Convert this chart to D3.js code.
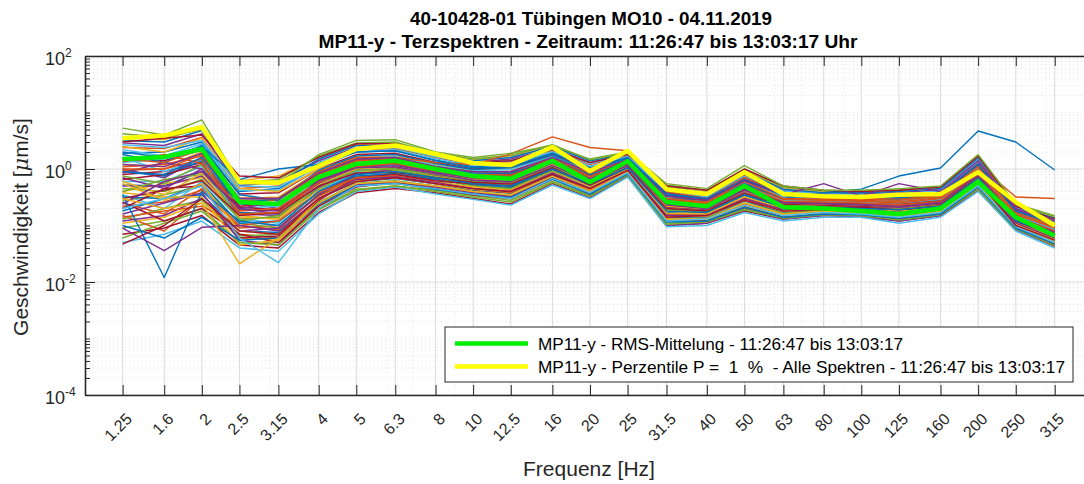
<!DOCTYPE html>
<html><head><meta charset="utf-8">
<script src="https://cdn.jsdelivr.net/npm/d3@7"></script>
<style>
body{margin:0;background:#fff}
svg{display:block;font-family:"Liberation Sans",Arial,Helvetica,sans-serif}
</style>
</head><body>
<svg id="chart" width="1084" height="484"></svg>
<script>
// ---------- data ----------
const freqs = [1.25,1.6,2,2.5,3.15,4,5,6.3,8,10,12.5,16,20,25,31.5,40,50,63,80,100,125,160,200,250,315];
const tickLabels = ["1.25","1.6","2","2.5","3.15","4","5","6.3","8","10","12.5","16","20","25","31.5","40","50","63","80","100","125","160","200","250","315"];
const yTickValues = [1e-4,1e-2,1e0,1e2];
const yTickExponents = ["-4","-2","0","2"];
const titleLine1 = "40-10428-01 Tübingen MO10 - 04.11.2019";
const titleLine2 = "MP11-y - Terzspektren - Zeitraum: 11:26:47 bis 13:03:17 Uhr";
const legendLabels = ["MP11-y - RMS-Mittelung - 11:26:47 bis 13:03:17",
                      "MP11-y - Perzentile P =  1  %  - Alle Spektren - 11:26:47 bis 13:03:17"];

// RMS average (green) and 1% percentile (yellow), µm/s
const rmsValues = [1.5,1.63,2.26,0.26,0.24,0.72,1.23,1.4,1.0,0.75,0.67,1.4,0.59,1.38,0.26,0.22,0.5,0.21,0.2,0.18,0.16,0.2,0.59,0.14,0.066];
const percentileValues = [3.5,3.9,5.5,0.59,0.57,1.13,2.26,2.6,1.84,1.28,1.18,2.45,0.92,2.1,0.44,0.36,0.88,0.36,0.33,0.32,0.35,0.36,0.88,0.26,0.1];

// individual third-octave spectra, µm/s
const spectra = [
 [0.52,0.5,0.9,0.17,0.16,0.5,1.0,1.1,0.8,0.65,0.62,1.2,0.62,1.2,0.22,0.2,0.4,0.24,0.24,0.23,0.21,0.25,0.8,0.13,0.075],
 [0.22,0.26,0.42,0.09,0.1,0.33,0.68,0.72,0.6,0.45,0.4,0.85,0.45,0.95,0.15,0.16,0.3,0.19,0.2,0.19,0.17,0.2,0.62,0.11,0.06],
 [1.2,1.1,2.0,0.3,0.32,0.9,1.6,1.7,1.2,0.95,1.0,1.7,0.9,1.5,0.32,0.27,0.6,0.33,0.3,0.3,0.28,0.33,1.1,0.17,0.1],
 [2.9,2.6,4.2,0.5,0.6,1.4,2.4,2.5,1.7,1.3,1.5,2.3,1.3,1.8,0.45,0.36,0.85,0.42,0.37,0.36,0.38,0.43,1.5,0.21,0.13],
 [0.09,0.12,0.2,0.05,0.05,0.2,0.44,0.5,0.42,0.34,0.28,0.6,0.34,0.8,0.11,0.12,0.2,0.14,0.16,0.16,0.13,0.16,0.46,0.09,0.047],
 [0.35,0.2,0.6,0.13,0.11,0.45,0.8,0.9,0.7,0.55,0.5,1.0,0.55,1.05,0.18,0.17,0.35,0.22,0.22,0.21,0.19,0.23,0.7,0.12,0.07],
 [0.8,0.9,1.3,0.22,0.25,0.65,1.3,1.4,1.0,0.8,0.8,1.45,0.75,1.35,0.27,0.23,0.5,0.28,0.27,0.26,0.25,0.29,0.95,0.15,0.088],
 [1.9,2.0,3.0,0.4,0.45,1.1,2.0,2.1,1.45,1.1,1.2,2.0,1.1,1.65,0.38,0.31,0.72,0.38,0.33,0.33,0.33,0.38,1.3,0.19,0.12],
 [0.15,0.08,0.3,0.07,0.06,0.25,0.55,0.6,0.5,0.4,0.33,0.7,0.4,0.88,0.13,0.13,0.24,0.16,0.18,0.17,0.15,0.18,0.55,0.1,0.052],
 [0.4,0.55,0.7,0.15,0.13,0.42,0.9,1.0,0.75,0.6,0.55,1.1,0.58,1.1,0.2,0.18,0.38,0.23,0.23,0.22,0.2,0.24,0.75,0.125,0.072],
 [1.0,0.7,1.6,0.26,0.2,0.75,1.45,1.5,1.1,0.88,0.9,1.6,0.85,1.4,0.3,0.25,0.55,0.3,0.28,0.28,0.26,0.31,1.0,0.16,0.095],
 [0.28,0.35,0.5,0.11,0.09,0.36,0.72,0.85,0.65,0.5,0.45,0.9,0.5,1.0,0.17,0.16,0.33,0.2,0.21,0.2,0.18,0.21,0.66,0.115,0.065],
 [0.6,0.6,1.1,0.2,0.22,0.58,1.15,1.2,0.9,0.72,0.7,1.3,0.7,1.25,0.24,0.21,0.45,0.26,0.25,0.25,0.23,0.27,0.9,0.14,0.08],
 [1.5,1.4,2.3,0.36,0.38,1.0,1.8,1.9,1.3,1.0,1.1,1.85,1.0,1.6,0.35,0.29,0.65,0.35,0.31,0.31,0.3,0.35,1.2,0.18,0.11],
 [0.18,0.3,0.35,0.08,0.075,0.3,0.6,0.68,0.55,0.42,0.37,0.78,0.42,0.92,0.14,0.14,0.27,0.17,0.19,0.18,0.16,0.19,0.58,0.105,0.055],
 [2.4,2.3,3.6,0.45,0.5,1.25,2.2,2.3,1.6,1.2,1.35,2.15,1.2,1.75,0.42,0.33,0.78,0.4,0.35,0.34,0.35,0.4,1.4,0.2,0.125],
 [0.11,0.14,0.25,0.06,0.055,0.22,0.5,0.55,0.46,0.37,0.3,0.65,0.37,0.84,0.12,0.125,0.22,0.15,0.17,0.165,0.14,0.17,0.5,0.095,0.05],
 [0.7,0.45,1.0,0.19,0.18,0.55,1.05,1.15,0.85,0.68,0.65,1.25,0.66,1.2,0.23,0.2,0.43,0.25,0.24,0.24,0.22,0.26,0.82,0.135,0.078],
 [0.45,0.4,0.65,0.13,0.14,0.45,0.85,0.95,0.72,0.57,0.52,1.05,0.56,1.08,0.19,0.175,0.37,0.22,0.22,0.22,0.2,0.23,0.72,0.12,0.07],
 [1.3,1.5,2.1,0.28,0.3,0.85,1.55,1.65,1.15,0.92,0.98,1.65,0.88,1.45,0.31,0.26,0.58,0.32,0.29,0.29,0.27,0.32,1.05,0.165,0.098],
 [0.07,0.09,0.15,0.045,0.04,0.17,0.38,0.45,0.38,0.3,0.24,0.55,0.31,0.75,0.1,0.11,0.18,0.13,0.15,0.15,0.12,0.15,0.42,0.085,0.043],
 [0.9,0.75,1.4,0.24,0.23,0.7,1.25,1.35,0.95,0.78,0.76,1.4,0.73,1.3,0.26,0.22,0.48,0.27,0.26,0.26,0.24,0.28,0.92,0.145,0.085],
 [0.25,0.16,0.45,0.1,0.085,0.34,0.65,0.75,0.6,0.46,0.43,0.85,0.47,0.97,0.155,0.155,0.31,0.195,0.205,0.2,0.175,0.205,0.64,0.11,0.062],
 [3.6,3.3,5.5,0.62,0.75,1.6,2.7,2.9,1.85,1.45,1.7,2.6,1.4,1.9,0.5,0.4,0.95,0.46,0.4,0.4,0.42,0.47,1.65,0.23,0.14],
 [0.5,0.5,0.75,0.16,0.15,0.48,0.95,1.05,0.78,0.62,0.58,1.15,0.6,1.12,0.21,0.19,0.4,0.24,0.235,0.23,0.21,0.25,0.78,0.13,0.074],
 [0.13,0.2,0.28,0.065,0.07,0.26,0.56,0.62,0.5,0.4,0.34,0.72,0.4,0.88,0.13,0.135,0.25,0.165,0.18,0.175,0.15,0.18,0.55,0.1,0.053],
 [2.2,1.7,2.8,0.42,0.42,1.15,2.0,2.2,1.5,1.15,1.25,2.0,1.1,1.65,0.4,0.32,0.74,0.38,0.34,0.33,0.33,0.38,1.3,0.19,0.115],
 [0.65,0.8,1.2,0.21,0.19,0.6,1.2,1.25,0.9,0.74,0.72,1.32,0.7,1.28,0.25,0.215,0.46,0.265,0.255,0.25,0.235,0.275,0.88,0.142,0.082],
 [0.32,0.3,0.55,0.11,0.12,0.38,0.75,0.82,0.66,0.52,0.47,0.95,0.5,1.02,0.17,0.165,0.34,0.21,0.21,0.205,0.185,0.215,0.68,0.115,0.066],
 [1.1,1.2,1.7,0.27,0.28,0.8,1.5,1.55,1.1,0.88,0.9,1.55,0.82,1.4,0.29,0.25,0.55,0.3,0.285,0.28,0.26,0.31,1.0,0.16,0.092],
 [2.5,2.0,3.5,0.45,0.4,1.0,1.6,1.5,1.0,0.7,0.6,1.1,0.55,1.1,0.18,0.16,0.32,0.18,0.19,0.19,0.16,0.19,0.6,0.1,0.055],
 [0.12,0.15,0.3,0.08,0.09,0.35,0.8,1.0,0.9,0.8,0.85,1.5,0.85,1.45,0.38,0.3,0.7,0.37,0.33,0.32,0.32,0.37,1.25,0.19,0.11],
 [0.4,0.65,0.8,0.25,0.3,0.7,1.1,1.0,0.7,0.5,0.45,0.95,0.48,1.0,0.2,0.18,0.36,0.22,0.22,0.21,0.19,0.22,0.7,0.12,0.065],
 [1.6,0.9,1.5,0.12,0.1,0.4,0.9,1.2,1.0,0.75,0.7,1.35,0.7,1.3,0.27,0.22,0.5,0.28,0.27,0.26,0.25,0.29,0.95,0.15,0.085],
 [0.2,0.45,0.5,0.06,0.065,0.28,0.7,0.8,0.62,0.55,0.5,1.0,0.55,1.1,0.22,0.2,0.42,0.24,0.23,0.22,0.21,0.24,0.76,0.125,0.07],
 [3.2,3.0,4.8,0.55,0.55,1.5,2.6,2.6,1.8,1.4,1.6,2.5,1.4,1.85,0.48,0.38,0.9,0.44,0.38,0.38,0.4,0.45,1.6,0.22,0.135],
 [0.95,1.0,1.5,0.18,0.2,0.6,1.2,1.3,0.95,0.8,0.78,1.4,0.78,1.35,0.28,0.24,0.52,0.29,0.28,0.27,0.25,0.3,0.98,0.155,0.09],
 [0.6,0.35,0.85,0.14,0.13,0.52,1.0,1.1,0.82,0.65,0.6,1.2,0.62,1.18,0.22,0.2,0.41,0.25,0.24,0.23,0.21,0.25,0.8,0.13,0.076],
 [0.16,0.25,0.38,0.055,0.045,0.24,0.52,0.6,0.48,0.38,0.32,0.7,0.38,0.86,0.1,0.11,0.19,0.13,0.15,0.14,0.12,0.15,0.48,0.085,0.045],
 [0.75,0.55,1.2,0.12,0.15,0.5,0.95,1.0,0.8,0.6,0.55,1.1,0.55,1.1,0.19,0.17,0.36,0.2,0.2,0.19,0.17,0.2,0.65,0.11,0.06],
 [0.05,0.07,0.12,0.04,0.035,0.16,0.4,0.48,0.36,0.29,0.23,0.52,0.3,0.72,0.095,0.1,0.17,0.12,0.14,0.14,0.11,0.14,0.4,0.08,0.04],
 [0.26,0.12,0.2,0.07,0.05,0.22,0.48,0.58,0.45,0.35,0.3,0.68,0.36,0.84,0.12,0.12,0.21,0.14,0.16,0.15,0.13,0.16,0.5,0.09,0.048],
 [1.8,1.3,2.6,0.35,0.28,0.95,1.7,1.8,1.25,0.98,1.05,1.75,0.95,1.55,0.34,0.28,0.62,0.34,0.3,0.3,0.29,0.34,1.15,0.175,0.105],
 [0.14,0.18,0.22,0.1,0.12,0.38,0.7,0.75,0.55,0.44,0.38,0.8,0.43,0.93,0.16,0.15,0.3,0.18,0.19,0.19,0.17,0.2,0.6,0.1,0.058],
 [0.38,0.32,0.32,0.045,0.055,0.3,0.62,0.7,0.58,0.48,0.42,0.88,0.48,0.98,0.165,0.16,0.32,0.2,0.2,0.2,0.18,0.21,0.66,0.112,0.063],
 [0.85,1.3,1.0,0.2,0.16,0.62,1.1,1.2,0.88,0.7,0.68,1.28,0.68,1.22,0.24,0.21,0.44,0.26,0.25,0.24,0.22,0.26,0.85,0.138,0.079],
 [0.06,0.11,0.18,0.05,0.045,0.19,0.42,0.5,0.4,0.32,0.26,0.58,0.33,0.78,0.105,0.115,0.19,0.135,0.155,0.15,0.125,0.155,0.44,0.087,0.044],
 [2.7,2.4,3.2,0.5,0.48,1.3,2.3,2.4,1.65,1.25,1.4,2.2,1.25,1.78,0.44,0.35,0.82,0.41,0.36,0.35,0.36,0.41,1.45,0.205,0.128],
 [0.3,0.42,0.62,0.15,0.17,0.5,0.85,0.88,0.7,0.58,0.54,1.05,0.52,1.06,0.2,0.18,0.37,0.22,0.21,0.21,0.19,0.22,0.7,0.118,0.067],
 [0.1,0.06,0.14,0.055,0.06,0.24,0.5,0.56,0.44,0.36,0.31,0.66,0.36,0.82,0.115,0.12,0.21,0.14,0.16,0.155,0.135,0.16,0.48,0.09,0.048],
 [1.35,1.8,1.25,0.16,0.17,0.58,1.1,1.25,0.92,0.75,0.74,1.35,0.72,1.3,0.26,0.22,0.47,0.27,0.26,0.25,0.23,0.27,0.87,0.14,0.08],
 [0.55,0.28,0.55,0.08,0.07,0.3,0.64,0.7,0.56,0.44,0.4,0.82,0.44,0.94,0.145,0.145,0.28,0.18,0.19,0.18,0.16,0.19,0.58,0.105,0.057],
 [0.24,0.6,0.9,0.2,0.26,0.62,1.05,1.1,0.82,0.64,0.6,1.15,0.62,1.15,0.23,0.2,0.42,0.25,0.24,0.23,0.21,0.25,0.8,0.13,0.075],
 [4.2,3.6,5.0,0.58,0.65,1.7,2.9,3.0,1.9,1.5,1.75,2.7,1.45,1.95,0.52,0.42,1.0,0.48,0.41,0.41,0.43,0.48,1.7,0.23,0.145]
];

// spectra that stand out from the band
const outlierSpectra = [
 [0.35,0.012,0.4,0.12,0.1,0.4,0.8,0.9,0.7,0.55,0.5,1.0,0.55,1.05,0.18,0.17,0.35,0.21,0.21,0.2,0.19,0.22,0.7,0.12,0.068],
 [0.09,0.036,0.093,0.1,0.08,0.3,0.65,0.72,0.58,0.45,0.4,0.85,0.46,0.95,0.15,0.15,0.3,0.19,0.2,0.19,0.17,0.2,0.6,0.11,0.06],
 [0.3,0.2,0.25,0.021,0.06,0.25,0.55,0.6,0.5,0.4,0.35,0.75,0.4,0.9,0.13,0.13,0.25,0.16,0.18,0.17,0.15,0.18,0.55,0.1,0.05],
 [0.2,0.3,0.5,0.06,0.022,0.2,0.5,0.55,0.45,0.36,0.3,0.68,0.38,0.85,0.12,0.13,0.23,0.15,0.17,0.16,0.14,0.17,0.5,0.095,0.05],
 [0.047,0.1,0.3,0.08,0.07,0.3,0.6,0.7,0.55,0.45,0.4,0.8,0.45,0.95,0.14,0.15,0.28,0.18,0.19,0.18,0.16,0.19,0.6,0.1,0.055],
 [0.9,0.8,1.6,0.25,0.3,0.8,1.4,1.5,1.1,0.85,0.85,1.5,0.8,1.35,0.3,0.28,0.55,0.3,0.38,0.44,0.75,1.04,4.7,3.0,0.96],
 [1.5,1.3,2.2,0.3,0.3,0.9,1.6,1.6,1.3,1.2,1.85,3.7,2.4,2.1,0.4,0.3,0.7,0.35,0.3,0.3,0.3,0.34,1.1,0.17,0.1],
 [1.0,1.0,1.8,0.3,0.3,0.8,1.4,1.5,1.1,0.9,0.9,1.5,0.85,1.4,0.3,0.26,0.6,0.3,0.29,0.29,0.28,0.33,1.2,0.32,0.3],
 [2.0,1.6,2.5,0.65,1.0,1.2,2.0,2.1,1.4,1.05,1.1,1.9,1.05,1.6,0.36,0.3,0.65,0.36,0.32,0.32,0.31,0.36,1.2,0.18,0.11],
 [3.0,3.5,4.0,0.75,0.7,1.6,2.8,2.8,1.8,1.3,1.4,2.2,1.3,1.8,0.5,0.42,1.0,0.5,0.42,0.4,0.42,0.48,1.7,0.22,0.13],
 [1.2,1.1,1.9,0.3,0.3,0.85,1.5,1.6,1.1,0.9,0.9,1.6,0.88,1.45,0.33,0.28,0.62,0.35,0.55,0.33,0.55,0.4,1.4,0.2,0.12],
 [5.3,4.0,7.4,0.6,0.55,1.8,3.2,3.3,2.0,1.6,1.9,2.6,1.5,2.0,0.55,0.45,1.15,0.5,0.42,0.42,0.45,0.5,1.8,0.24,0.15]
];
const outlierColors = ["#0072BD","#7E2F8E","#EDB120","#4DBEEE","#A2142F","#0072BD","#D95319","#D95319","#0072BD","#A2142F","#7E2F8E","#77AC30"];
const lineColors = ["#0072BD","#D95319","#EDB120","#7E2F8E","#77AC30","#4DBEEE","#A2142F"];

// ---------- drawing ----------
const svg = d3.select("#chart");
const pL = 85, pR = 1095, pT = 56, pB = 395;
const x = d3.scaleLog().domain([1, 400]).range([pL, pR]);
const y = d3.scaleLog().domain([1e-4, 1e2]).range([pB, pT]);

// minor grid (dotted)
const yMinor = y.ticks().filter(v => !yTickValues.some(t => Math.abs(Math.log10(v) - Math.log10(t)) < 1e-6));
const xMinor = x.ticks();
const grid = svg.append("g");
grid.selectAll("line.ym").data(yMinor).join("line")
  .attr("x1", pL).attr("x2", pR).attr("y1", d => y(d)).attr("y2", d => y(d))
  .attr("stroke", "#d8d8d8").attr("stroke-width", 0.8).attr("stroke-dasharray", "1,3");
grid.selectAll("line.xm").data(xMinor).join("line")
  .attr("y1", pT).attr("y2", pB).attr("x1", d => x(d)).attr("x2", d => x(d))
  .attr("stroke", "#e2e2e2").attr("stroke-width", 0.8).attr("stroke-dasharray", "1,3");
// major grid
grid.selectAll("line.xg").data(freqs).join("line")
  .attr("y1", pT).attr("y2", pB).attr("x1", d => x(d)).attr("x2", d => x(d))
  .attr("stroke", "#dcdcdc").attr("stroke-width", 1);
grid.selectAll("line.yg").data(yTickValues).join("line")
  .attr("x1", pL).attr("x2", pR).attr("y1", d => y(d)).attr("y2", d => y(d))
  .attr("stroke", "#dcdcdc").attr("stroke-width", 1);

// clip
svg.append("clipPath").attr("id", "plotclip").append("rect")
  .attr("x", pL).attr("y", pT).attr("width", pR - pL).attr("height", pB - pT);

const line = d3.line().x((d, i) => x(freqs[i])).y(d => y(d));
const plot = svg.append("g").attr("clip-path", "url(#plotclip)");
plot.selectAll("path.sp").data(spectra).join("path")
  .attr("d", line).attr("fill", "none")
  .attr("stroke", (d, i) => lineColors[i % lineColors.length])
  .attr("stroke-width", 1.5).attr("stroke-linejoin", "round");
plot.selectAll("path.out").data(outlierSpectra).join("path")
  .attr("d", line).attr("fill", "none")
  .attr("stroke", (d, i) => outlierColors[i])
  .attr("stroke-width", 1.4).attr("stroke-linejoin", "round");
plot.append("path").datum(rmsValues).attr("d", line).attr("fill", "none")
  .attr("stroke", "#00ee00").attr("stroke-width", 4.5).attr("stroke-linejoin", "round");
plot.append("path").datum(percentileValues).attr("d", line).attr("fill", "none")
  .attr("stroke", "#ffff00").attr("stroke-width", 4.5).attr("stroke-linejoin", "round");

// axes
const axisColor = "#262626";
const gx = svg.append("g").attr("transform", `translate(0,${pB})`)
  .call(d3.axisBottom(x).tickValues(freqs).tickSizeInner(-10).tickSizeOuter(0).tickFormat((d, i) => tickLabels[i]));
gx.selectAll("text")
  .attr("x", null).attr("y", null).attr("dy", null)
  .attr("text-anchor", "end").attr("dominant-baseline", "hanging")
  .attr("transform", "translate(2,17) rotate(-45)")
  .attr("font-size", 16).attr("fill", axisColor);
const gxt = svg.append("g").attr("transform", `translate(0,${pT})`)
  .call(d3.axisTop(x).tickValues(freqs).tickSizeInner(-10).tickSizeOuter(0).tickFormat(""));
const gy = svg.append("g").attr("transform", `translate(${pL},0)`)
  .call(d3.axisLeft(y).tickValues(yTickValues).tickSizeInner(-10).tickSizeOuter(0).tickFormat(""));
const gym = svg.append("g").attr("transform", `translate(${pL},0)`)
  .call(d3.axisLeft(y).tickValues(yMinor).tickSizeInner(-5).tickSizeOuter(0).tickFormat(""));
gym.select(".domain").remove();
[gx, gxt, gy, gym].forEach(g => {
  g.selectAll(".domain").attr("stroke", axisColor).attr("stroke-width", 1.6);
  g.selectAll(".tick line").attr("stroke", axisColor).attr("stroke-width", 1);
});

// y tick labels 10^k
const yl = svg.append("g").selectAll("text").data(yTickValues).join("text")
  .attr("x", 45).attr("y", d => y(d) + 8.6).attr("fill", axisColor);
yl.append("tspan").attr("font-size", 18).text("10");
yl.append("tspan").attr("font-size", 12).attr("dy", -8).text((d, i) => yTickExponents[i]);

// axis titles
const ylab = svg.append("text").attr("transform", "translate(28,227) rotate(-90)")
  .attr("text-anchor", "middle").attr("font-size", 21).attr("fill", axisColor);
ylab.append("tspan").text("Geschwindigkeit [");
ylab.append("tspan").attr("font-style", "italic").attr("font-family", "DejaVu Serif, serif").text("μ");
ylab.append("tspan").text("m/s]");
svg.append("text").attr("x", 589).attr("y", 476).attr("text-anchor", "middle")
  .attr("font-size", 21).attr("fill", axisColor).text("Frequenz [Hz]");

// titles
svg.append("text").attr("x", 591).attr("y", 25).attr("text-anchor", "middle")
  .attr("font-size", 18.5).attr("font-weight", "bold").attr("fill", "#000")
  .attr("textLength", 362).attr("lengthAdjust", "spacingAndGlyphs").text(titleLine1);
svg.append("text").attr("x", 588).attr("y", 48).attr("text-anchor", "middle")
  .attr("font-size", 18.5).attr("font-weight", "bold").attr("fill", "#000")
  .attr("textLength", 539).attr("lengthAdjust", "spacingAndGlyphs").text(titleLine2);

// legend
const lg = svg.append("g");
lg.append("rect").attr("x", 445).attr("y", 327).attr("width", 628).attr("height", 55)
  .attr("fill", "#fff").attr("stroke", axisColor).attr("stroke-width", 1);
const legendColors = ["#00ee00", "#ffff00"];
const legendWidths = [365, 527];
legendLabels.forEach((t, i) => {
  const yy = 343.5 + i * 23;
  lg.append("line").attr("x1", 455).attr("x2", 528).attr("y1", yy).attr("y2", yy)
    .attr("stroke", legendColors[i]).attr("stroke-width", 4.5);
  lg.append("text").attr("x", 538).attr("y", yy + 6).attr("font-size", 17)
    .attr("fill", "#000").style("white-space", "pre")
    .attr("textLength", legendWidths[i]).attr("lengthAdjust", "spacingAndGlyphs").text(t);
});
</script>
</body></html>
